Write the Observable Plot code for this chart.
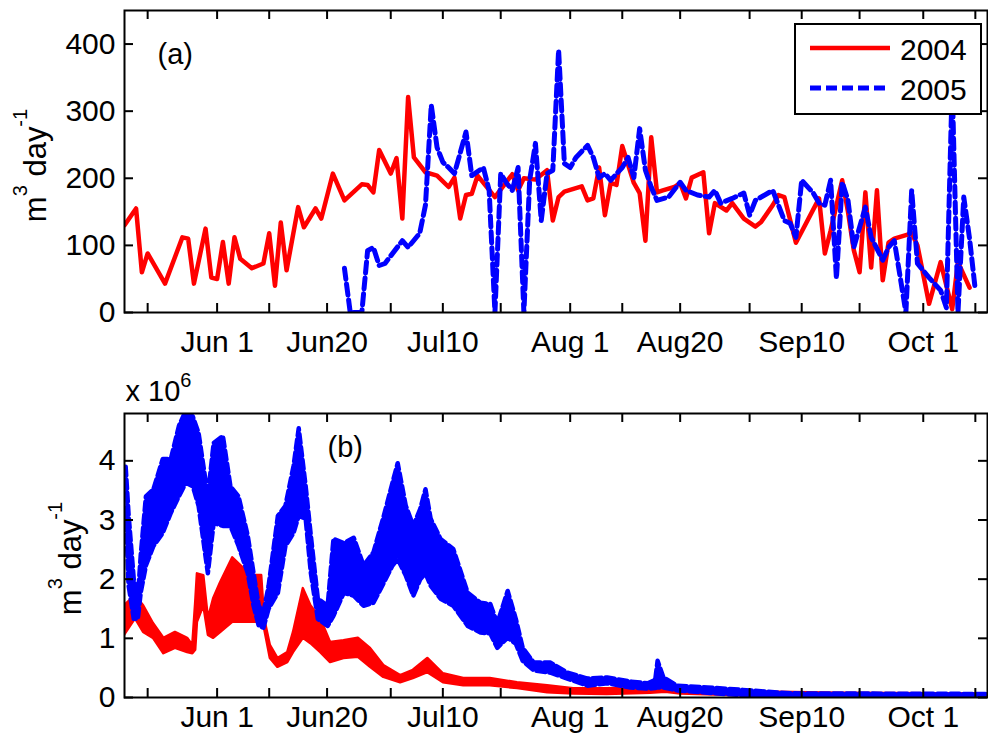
<!DOCTYPE html>
<html><head><meta charset="utf-8">
<script src="https://cdn.jsdelivr.net/npm/d3@7"></script>
<script src="https://cdn.jsdelivr.net/npm/@observablehq/plot@0.6"></script>
<style>
body{margin:0;background:#fff;}
#chart{position:relative;width:988px;height:734px;overflow:hidden;background:#fff;font-family:"Liberation Sans",Arial,sans-serif;}
#chart svg{display:block;}
#legend{position:absolute;left:794px;top:23px;width:188px;height:92px;box-sizing:border-box;border:2px solid #000;background:#fff;}
</style></head>
<body><div id="chart"></div>
<script>
// ---- series / categories ----
const seriesNames = ["2004", "2005"];
const seriesColors = ["#ff0000", "#0000ff"];

// x tick dates (MM-DD) and their labels (every other tick labelled)
const tickDates  = ["05-20","06-01","06-10","06-20","07-01","07-10","07-20","08-01","08-10","08-20","09-01","09-10","09-20","10-01","10-10"];
const tickLabels = ["","Jun 1","","Jun20","","Jul10","","Aug 1","","Aug20","","Sep10","","Oct 1",""];
const yTicksA = [0, 100, 200, 300, 400];
const yTicksB = [0, 1, 2, 3, 4];

// Panel (a): daily values, x = day of year, y = m^3 day^-1
const redA_day = [136,138,139,140,143,146,147,148,150,151,152,153,154,155,156,158,160,161,162,163,164,166,167,169,170,172,174,177,178,179,180,182,183,184,185,186,188,190,192,193,194,195,196,197,200,203,204,205,207,209,210,211,212,215,216,217,218,219,220,221,222,224,225,226,227,228,229,231,232,233,234,236,237,238,240,241,243,245,246,248,249,250,252,256,257,258,260,261,262,263,264,265,266,267,268,269,272,273,275,277,279,280,282];
const redA_val = [130,155,60,88,43,112,110,43,125,52,50,105,43,112,80,66,73,118,40,134,63,157,127,155,140,207,167,191,190,179,242,207,230,140,321,231,209,204,187,201,140,175,177,204,172,206,182,200,198,212,137,172,180,188,167,170,216,145,193,190,248,193,178,107,261,179,182,187,193,170,201,209,118,163,152,163,140,128,135,160,175,172,104,170,88,122,197,150,93,60,179,67,182,48,104,110,118,100,13,75,5,75,37];
const blueA_day = [174,175,177,178,179,180,181,184,185,187,188,189,190,191,192,193,195,196,198,199,200,201,202,203,204,205,206,207,208,209,210,211,212,213,214,216,217,218,219,220,222,223,224,225,226,227,228,230,232,233,235,237,238,239,241,243,244,245,248,250,251,252,253,255,256,257,258,259,260,261,262,264,265,267,268,269,271,272,273,275,277,278,279,280,281,282,283];
const blueA_val = [66,0,0,92,97,70,73,107,97,118,160,309,246,224,216,207,269,204,216,182,0,207,193,182,216,0,197,252,137,207,212,391,222,216,231,249,231,201,207,197,216,231,201,274,212,187,167,172,194,182,175,172,182,163,170,178,145,167,182,137,133,112,197,178,163,160,197,51,194,167,97,157,112,78,97,107,0,182,73,52,33,7,340,0,172,110,33];

// Panel (b): envelope (low / high) of the oscillating record, in units of 10^6 m^3 day^-1
const redB_day = [136.0,137.9,139.3,141.0,142.8,144.8,146.9,147.8,148.3,148.6,149.7,150.5,151.4,152.6,154.7,156.6,158.3,159.7,160.2,161.2,162.5,164.2,165.2,166.9,168.2,169.9,171.6,173.9,176.4,178.5,180.8,183.7,185.9,188.4,191.1,194.6,199.2,203.9,209.1,213.6,219.4,226.9,229.5,232.1,242.4,259.7,285.1];
const redB_hi  = [1.55,1.72,1.55,1.25,1.00,1.10,1.00,0.88,1.60,2.09,2.06,1.33,1.67,1.94,2.36,2.18,2.06,2.06,1.33,0.88,0.66,0.76,1.10,1.84,1.55,1.33,0.93,0.96,1.00,0.83,0.54,0.37,0.46,0.66,0.40,0.32,0.32,0.25,0.20,0.15,0.15,0.17,0.20,0.13,0.10,0.07,0.06];
const redB_lo  = [1.05,1.33,1.10,1.00,0.74,0.83,0.76,0.74,0.80,1.27,1.55,1.05,1.00,1.10,1.27,1.27,1.27,1.27,1.16,0.66,0.51,0.59,0.76,1.00,0.91,0.76,0.59,0.66,0.68,0.51,0.34,0.25,0.32,0.42,0.25,0.20,0.20,0.15,0.08,0.06,0.05,0.07,0.09,0.06,0.03,0.02,0.02];
const blueB_day = [136.2,136.7,137.6,138.3,138.8,139.7,141.0,142.6,144.0,145.4,146.6,147.8,148.8,150.4,151.4,153.0,154.3,155.7,157.3,158.3,159.2,160.0,160.9,162.5,163.8,165.2,166.1,167.3,168.2,169.4,171.1,172.1,173.9,175.6,177.3,179.0,180.8,182.3,183.2,184.6,185.9,187.1,188.0,188.9,190.6,192.8,195.3,197.5,199.2,200.4,202.2,203.6,204.8,206.7,209.6,212.5,216.0,219.4,223.4,226.4,227.7,228.1,229.1,231.5,236.7,244.1,251.1,285.1];
const blueB_hi  = [3.90,3.10,2.00,1.67,2.40,3.40,3.52,4.03,4.03,4.59,4.85,4.75,4.47,3.40,4.30,4.42,3.57,3.40,2.73,2.10,1.55,1.43,1.89,3.07,3.24,3.91,4.55,3.57,2.73,1.67,1.55,2.68,2.61,2.70,2.23,2.45,3.07,3.63,3.96,3.24,2.90,3.19,3.52,3.02,2.68,2.51,1.77,1.60,1.58,1.25,1.80,1.33,0.84,0.59,0.59,0.42,0.32,0.34,0.27,0.24,0.30,0.62,0.34,0.20,0.17,0.12,0.07,0.06];
const blueB_lo  = [3.20,1.90,1.33,1.33,1.77,2.23,2.56,2.78,3.12,3.40,3.63,3.57,3.24,2.10,2.95,2.90,2.90,2.56,2.10,1.55,1.21,1.18,1.50,1.77,2.56,2.78,3.07,3.02,2.10,1.33,1.21,1.38,1.77,1.72,1.55,1.60,1.94,2.23,2.34,2.06,1.72,2.00,2.10,1.89,1.67,1.55,1.21,1.10,1.08,0.84,1.01,0.91,0.62,0.46,0.42,0.32,0.20,0.24,0.17,0.15,0.16,0.17,0.17,0.12,0.08,0.03,0.03,0.03];

// ---- build tables ----
const toDoy = s => { const d = new Date(`2005-${s}T00:00:00Z`); return d3.utcDay.count(d3.utcYear(d), d) + 1; };
const tickDoy = tickDates.map(toDoy);
const fmtX = d => tickLabels[tickDoy.indexOf(d)] ?? "";
const redA = redA_day.map((d, i) => ({doy: d, v: redA_val[i]}));
const blueA = blueA_day.map((d, i) => ({doy: d, v: blueA_val[i]}));
const redB = redB_day.map((d, i) => ({doy: d, hi: redB_hi[i], lo: redB_lo[i]}));
const blueB = blueB_day.map((d, i) => ({doy: d, hi: blueB_hi[i], lo: blueB_lo[i]}));

const W = 988, ML = 124, MR = 1;
const xDomain = [136.0, 285.1];
const font = "'Liberation Sans', Arial, sans-serif";
const yLabel = "m3 day-1";
const TL = 9; // inward tick length
const dashBlue = "11,5";

function frameTicks(plotW, plotH, yTicks) {
  return [
    Plot.frame({stroke: "black", strokeWidth: 2}),
    Plot.ruleX(tickDoy, {insetTop: plotH - TL, stroke: "black", strokeWidth: 2}),
    Plot.ruleX(tickDoy, {insetBottom: plotH - TL, stroke: "black", strokeWidth: 2}),
    Plot.ruleY(yTicks, {insetRight: plotW - TL, stroke: "black", strokeWidth: 2}),
    Plot.ruleY(yTicks, {insetLeft: plotW - TL, stroke: "black", strokeWidth: 2})
  ];
}

// ---- panel (a) ----
const hA = 360, mtA = 10, mbA = 48;
const plotA = Plot.plot({
  width: W, height: hA, marginLeft: ML, marginRight: MR, marginTop: mtA, marginBottom: mbA,
  style: {fontFamily: font, fontSize: "30px", color: "black", background: "white", overflow: "visible"},
  x: {type: "linear", domain: xDomain, axis: null},
  y: {domain: [0, 450], axis: null},
  marks: [
    Plot.line(redA, {x: "doy", y: "v", stroke: seriesColors[0], strokeWidth: 4.5, clip: true}),
    Plot.line(blueA, {x: "doy", y: "v", stroke: seriesColors[1], strokeWidth: 5, strokeDasharray: dashBlue, clip: true}),
    ...frameTicks(W - ML - MR, hA - mtA - mbA, yTicksA),
    Plot.axisX(tickDoy, {anchor: "bottom", tickSize: 0, tickPadding: 18, tickFormat: fmtX, label: null}),
    Plot.axisY(yTicksA, {anchor: "left", tickSize: 0, tickPadding: 9, tickFormat: d3.format("d"), label: null}),
    Plot.text(["(a)"], {frameAnchor: "top-left", dx: 33, dy: 33, lineAnchor: "top", textAnchor: "start", fontSize: 29}),
    Plot.text([yLabel], {frameAnchor: "left", rotate: -90, dx: -79, dy: 4, lineAnchor: "bottom", textAnchor: "middle", fontSize: 31})
  ]
});

// ---- panel (b) ----
const hB = 374, mtB = 53, mbB = 37;
const plotB = Plot.plot({
  width: W, height: hB, marginLeft: ML, marginRight: MR, marginTop: mtB, marginBottom: mbB,
  style: {fontFamily: font, fontSize: "30px", color: "black", background: "white", overflow: "visible"},
  x: {type: "linear", domain: xDomain, axis: null},
  y: {domain: [0, 4.8], axis: null},
  marks: [
    Plot.areaY(redB, {x: "doy", y1: "lo", y2: "hi", fill: seriesColors[0], stroke: seriesColors[0], strokeWidth: 2.5, clip: true}),
    Plot.areaY(blueB, {x: "doy", y1: "lo", y2: "hi", fill: seriesColors[1], clip: true}),
    Plot.line(blueB, {x: "doy", y: "hi", stroke: seriesColors[1], strokeWidth: 4.5, strokeDasharray: "9,4", clip: true}),
    Plot.line(blueB, {x: "doy", y: "lo", stroke: seriesColors[1], strokeWidth: 4.5, strokeDasharray: "9,4", clip: true}),
    ...frameTicks(W - ML - MR, hB - mtB - mbB, yTicksB),
    Plot.axisX(tickDoy, {anchor: "bottom", tickSize: 0, tickPadding: 8, tickFormat: fmtX, label: null}),
    Plot.axisY(yTicksB, {anchor: "left", tickSize: 0, tickPadding: 9, tickFormat: d3.format("d"), label: null}),
    Plot.text(["(b)"], {frameAnchor: "top-left", dx: 203, dy: 23, lineAnchor: "top", textAnchor: "start", fontSize: 29}),
    Plot.text(["x 10"], {frameAnchor: "top-left", dx: 1, dy: -13, lineAnchor: "bottom", textAnchor: "start", fontSize: 29}),
    Plot.text([yLabel], {frameAnchor: "left", rotate: -90, dx: -44, dy: 3, lineAnchor: "bottom", textAnchor: "middle", fontSize: 31})
  ]
});

// superscripts as real text
function rich(svg, plain, html) {
  for (const t of svg.querySelectorAll("text")) if (t.textContent === plain) t.innerHTML = html;
}
const ylabHtml = 'm<tspan dy="-19" font-size="20">3</tspan><tspan dy="19"> day</tspan><tspan dy="-19" font-size="20">-1</tspan>';
rich(plotA, yLabel, ylabHtml);
rich(plotB, yLabel, ylabHtml);
rich(plotB, "x 10", 'x 10<tspan dy="-14" font-size="20">6</tspan>');

const chart = document.getElementById("chart");
chart.append(plotA, plotB);

// legend
const leg = document.createElement("div");
leg.id = "legend";
const ns = "http://www.w3.org/2000/svg";
const ls = document.createElementNS(ns, "svg");
ls.setAttribute("width", 184); ls.setAttribute("height", 88);
seriesNames.forEach((name, i) => {
  const y = 23 + i * 40;
  const ln = document.createElementNS(ns, "line");
  ln.setAttribute("x1", 14); ln.setAttribute("x2", 94);
  ln.setAttribute("y1", y); ln.setAttribute("y2", y);
  ln.setAttribute("stroke", seriesColors[i]);
  ln.setAttribute("stroke-width", i ? 5 : 4.5);
  if (i) ln.setAttribute("stroke-dasharray", dashBlue);
  ls.appendChild(ln);
  const tx = document.createElementNS(ns, "text");
  tx.setAttribute("x", 104); tx.setAttribute("y", y + 12);
  tx.setAttribute("font-family", font); tx.setAttribute("font-size", 30);
  tx.textContent = name;
  ls.appendChild(tx);
});
leg.appendChild(ls);
chart.appendChild(leg);
</script>
</body></html>
